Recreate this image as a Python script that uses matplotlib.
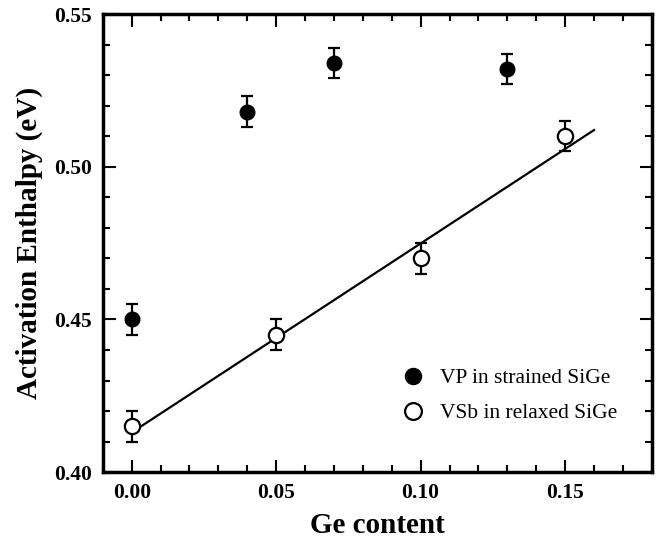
import matplotlib
matplotlib.use("Agg")
import matplotlib.pyplot as plt
from matplotlib.ticker import MultipleLocator

plt.rcParams['font.family'] = ['Liberation Serif', 'DejaVu Serif']

# VP in strained SiGe
vp_x = [0.00, 0.04, 0.07, 0.13]
vp_y = [0.450, 0.518, 0.534, 0.532]
vp_err = [0.005, 0.005, 0.005, 0.005]

# VSb in relaxed SiGe
vsb_x = [0.00, 0.05, 0.10, 0.15]
vsb_y = [0.415, 0.445, 0.470, 0.510]
vsb_err = [0.005, 0.005, 0.005, 0.005]

# linear fit line through VSb
fit_x = [0.0, 0.16]
fit_y = [0.413, 0.512]

fig = plt.figure(figsize=(6.59, 5.39), dpi=100)
ax = fig.add_axes([0.156, 0.124, 0.833, 0.85])

ax.plot(fit_x, fit_y, color='black', lw=1.6, zorder=1)

ax.errorbar(vp_x, vp_y, yerr=vp_err, fmt='none', ecolor='black',
            elinewidth=1.6, capsize=4.5, capthick=1.6, zorder=2)
ax.errorbar(vsb_x, vsb_y, yerr=vsb_err, fmt='none', ecolor='black',
            elinewidth=1.6, capsize=4.5, capthick=1.6, zorder=2)

ax.plot(vp_x, vp_y, 'o', ms=10.5, mfc='black', mec='black',
        label='VP in strained SiGe', zorder=3)
ax.plot(vsb_x, vsb_y, 'o', ms=11, mfc='white', mec='black', mew=1.6,
        label='VSb in relaxed SiGe', zorder=3)

ax.set_xlim(-0.01, 0.18)
ax.set_ylim(0.40, 0.55)
ax.set_xticks([0.00, 0.05, 0.10, 0.15])
ax.set_yticks([0.40, 0.45, 0.50, 0.55])
ax.xaxis.set_minor_locator(MultipleLocator(0.01))
ax.yaxis.set_minor_locator(MultipleLocator(0.01))

ax.tick_params(which='both', direction='in', top=True, right=True, width=1.5)
ax.tick_params(which='major', length=9, labelsize=15.5, pad=8)
ax.tick_params(which='minor', length=5)
for lab in ax.get_xticklabels() + ax.get_yticklabels():
    lab.set_fontweight('bold')
for sp in ax.spines.values():
    sp.set_linewidth(2.5)

ax.set_xlabel('Ge content', fontsize=21, fontweight='bold', labelpad=6)
ax.set_ylabel('Activation Enthalpy (eV)', fontsize=21, fontweight='bold', labelpad=8)

ax.legend(loc='center left', bbox_to_anchor=(0.525, 0.167), frameon=False,
          fontsize=15.5, borderpad=0, handlelength=1.0, handletextpad=0.77,
          labelspacing=0.7, markerscale=1.1)

fig.savefig('out.png', dpi=100)
